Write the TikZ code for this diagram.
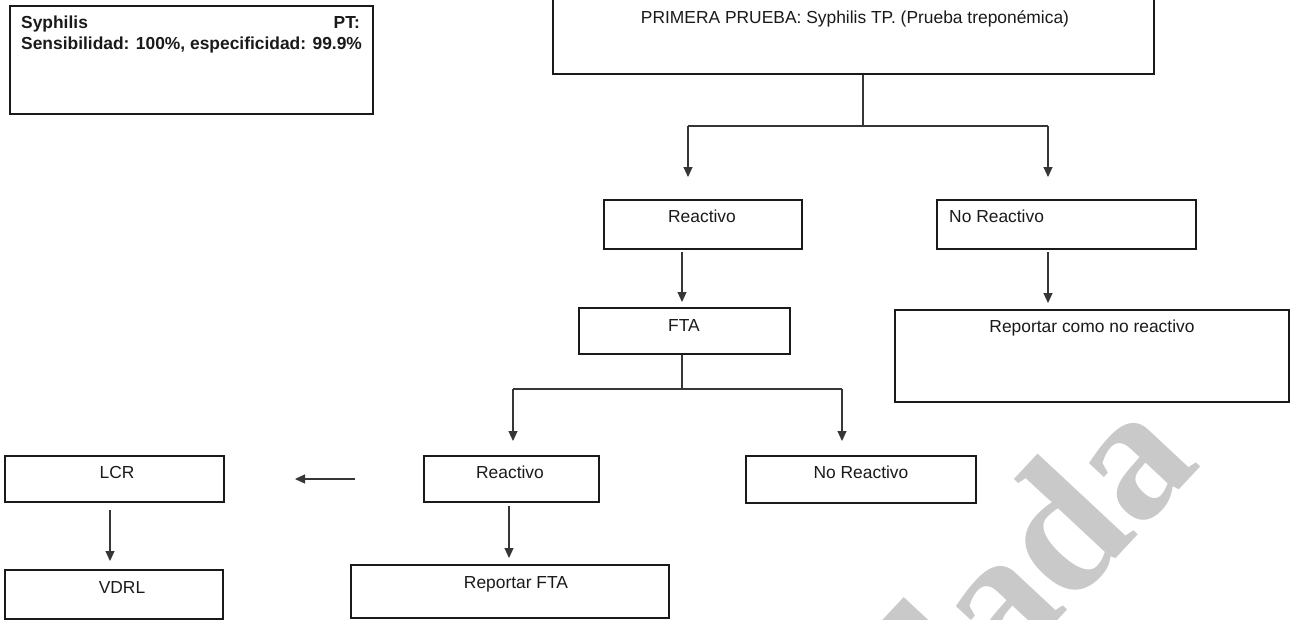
\documentclass[tikz,border=0pt]{standalone}
\usepackage{fontspec}
\setmainfont{Liberation Sans}
\newfontfamily\wmfont{Liberation Serif}
\usetikzlibrary{arrows.meta,calc}
\definecolor{ink}{HTML}{1A1A1A}
\definecolor{wire}{HTML}{363636}
\definecolor{wmgray}{HTML}{C9C9C9}
\begin{document}
\begin{tikzpicture}[x=1pt,y=-1pt,
  box/.style={draw=ink,line width=1.8pt,rectangle,inner sep=0pt,anchor=north west},
  lbl/.style={font=\fontsize{17.4}{21}\selectfont,text=ink,inner sep=0pt,anchor=base},
  bold lbl/.style={lbl,font=\fontsize{17.4}{21}\selectfont\bfseries},
  conn/.style={draw=wire,line width=1.1pt},
  arr/.style={conn,-{Triangle[length=10pt,width=9pt]}},
  watermark/.style={text=wmgray,font=\fontsize{185}{185}\selectfont\wmfont\bfseries,inner sep=0pt}
]
\useasboundingbox (0,0) rectangle (1290,619);
\clip (0,0) rectangle (1290,619);
\fill[white] (0,0) rectangle (1290,619);

% faint watermark behind the chart
\node[watermark,anchor=base east,rotate=47] (wm) at (1203,465) {lada};

% boxes
\node[box,minimum width=363pt,minimum height=108pt] (info) at (9,5) {};
\node[box,minimum width=601pt,minimum height=76pt] (first) at (552,-3) {};
\node[box,minimum width=198pt,minimum height=49pt] (r1) at (603,199) {};
\node[box,minimum width=259pt,minimum height=49pt] (nr1) at (936,199) {};
\node[box,minimum width=211pt,minimum height=46pt] (fta) at (578,307) {};
\node[box,minimum width=394pt,minimum height=92pt] (rep1) at (894,309) {};
\node[box,minimum width=175pt,minimum height=46pt] (r2) at (423,455) {};
\node[box,minimum width=230pt,minimum height=47pt] (nr2) at (745,455) {};
\node[box,minimum width=219pt,minimum height=46pt] (lcr) at (4,455) {};
\node[box,minimum width=218pt,minimum height=49pt] (vdrl) at (4,569) {};
\node[box,minimum width=318pt,minimum height=53pt] (repfta) at (350,564) {};

% texts
\node[bold lbl,anchor=base west] (infoa) at (21,28) {Syphilis};
\node[bold lbl,anchor=base east] (infob) at (360,28) {PT:};
\node[bold lbl,anchor=base west] (infoc) at (21,49) {Sensibilidad: 100\%, especificidad: 99.9\%};
\node[lbl] (firstt) at (855,23) {PRIMERA PRUEBA: Syphilis TP. (Prueba treponémica)};
\node[lbl] (r1t) at (702,222) {Reactivo};
\node[lbl,anchor=base west] (nr1t) at (949,222) {No Reactivo};
\node[lbl] (ftat) at (684,331) {FTA};
\node[lbl] (rep1t) at (1092,332) {Reportar como no reactivo};
\node[lbl] (r2t) at (510,478) {Reactivo};
\node[lbl] (nr2t) at (861,478) {No Reactivo};
\node[lbl] (lcrt) at (117,478) {LCR};
\node[lbl] (vdrlt) at (122,593) {VDRL};
\node[lbl] (repftat) at (516,588) {Reportar FTA};

% connector points
\coordinate (j0) at (863,126);
\coordinate (ja) at (688,126);
\coordinate (jb) at (1048,126);
\coordinate (ta) at (688,177);
\coordinate (tb) at (1048,177);
\coordinate (s1) at (682,252);
\coordinate (e1) at (682,302);
\coordinate (s2) at (1048,252);
\coordinate (e2) at (1048,303);
\coordinate (jf) at (682,389);
\coordinate (jc) at (513,389);
\coordinate (jd) at (842,389);
\coordinate (tc) at (513,441);
\coordinate (td) at (842,441);
\coordinate (s3) at (355,479);
\coordinate (e3) at (295,479);
\coordinate (s4) at (110,510);
\coordinate (e4) at (110,561);
\coordinate (s5) at (509,506);
\coordinate (e5) at (509,558);

% connectors
\draw[conn] (first.south -| j0) -- (j0);
\draw[conn] (ja) -- (jb);
\draw[arr] (ja) -- (ta);
\draw[arr] (jb) -- (tb);
\draw[arr] (s1) -- (e1);
\draw[arr] (s2) -- (e2);
\draw[conn] (fta.south -| jf) -- (jf);
\draw[conn] (jc) -- (jd);
\draw[arr] (jc) -- (tc);
\draw[arr] (jd) -- (td);
\draw[arr] (s3) -- (e3);
\draw[arr] (s4) -- (e4);
\draw[arr] (s5) -- (e5);
\end{tikzpicture}
\end{document}
